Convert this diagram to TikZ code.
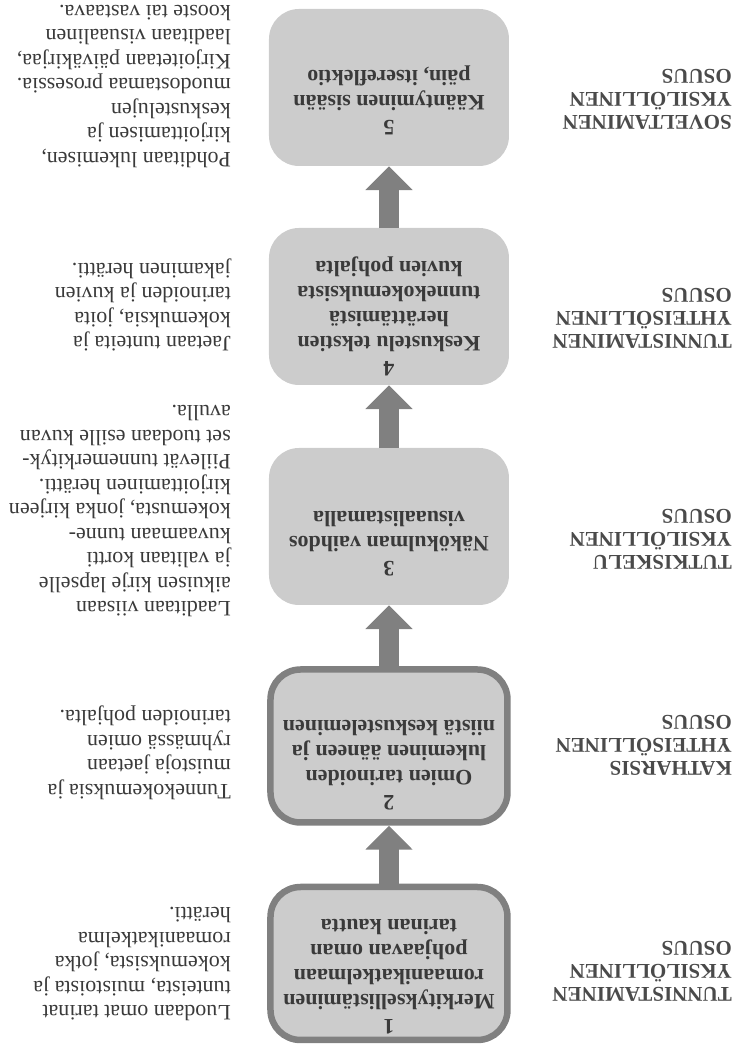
\documentclass[tikz,border=0pt]{standalone}
\usepackage{fontspec}
\setmainfont{Liberation Serif}
\newfontfamily\capsfont{Liberation Serif}
\usetikzlibrary{arrows.meta}

\definecolor{boxgray}{HTML}{CCCCCC}
\definecolor{arrowgray}{HTML}{808080}
\definecolor{textgray}{HTML}{3A3A3A}
\definecolor{labelgray}{HTML}{4A4A4A}

\tikzset{
  phase/.style={rectangle,rounded corners=30pt,fill=boxgray,minimum width=240pt,minimum height=157pt},
  phasebold/.style={phase,draw=arrowgray,line width=6.5pt,minimum width=237pt,minimum height=153pt},
  phasetext/.style={align=center,text=textgray,font=\bfseries\fontsize{22}{25}\selectfont},
  stagelabel/.style={anchor=west,align=left,inner sep=0pt,text=labelgray,font=\capsfont\bfseries\fontsize{21}{23}\selectfont},
  desc/.style={anchor=west,align=left,inner sep=0pt,text=textgray,font=\fontsize{22}{24.5}\selectfont},
  flow/.style={draw=arrowgray,line width=20pt,-{Triangle[width=46pt,length=24pt,color=arrowgray]}}
}

\begin{document}
\begin{tikzpicture}[x=1pt,y=-1pt,rotate=180,transform shape]
  \useasboundingbox (0,0) rectangle (736,1056);
  % phase boxes
  \node[phasebold](p1)at(347,92.5){};
  \node[phasebold](p2)at(347,310){};
  \node[phase](p3)at(347,529.5){};
  \node[phase](p4)at(347,749.5){};
  \node[phase](p5)at(347,968.5){};
  \node[phasetext](t1)at(347,79){1\\Merkityksellistäminen\\romaanikatkelmaan\\pohjaavan oman\\tarinan kautta};
  \node[phasetext](t2)at(347,291){2\\Omien tarinoiden\\lukeminen ääneen ja\\niistä keskusteleminen};
  \node[phasetext](t3)at(347,512){3\\Näkökulman vaihdos\\visuaalistamalla};
  \node[phasetext](t4)at(347,740){4\\Keskustelu tekstien\\herättämistä\\tunnekokemuksista\\kuvien pohjalta};
  \node[phasetext](t5)at(347,956){5\\Kääntyminen sisään\\päin, itsereflektio};
  % stage names
  \node[stagelabel](s1)at(4,85){TUNNISTAMINEN\\YKSILÖLLINEN\\OSUUS};
  \node[stagelabel](s2)at(4,311){KATHARSIS\\YHTEISÖLLINEN\\OSUUS};
  \node[stagelabel](s3)at(4,517){TUTKISKELU\\YKSILÖLLINEN\\OSUUS};
  \node[stagelabel](s4)at(4,738){TUNNISTAMINEN\\YHTEISÖLLINEN\\OSUUS};
  \node[stagelabel](s5)at(4,957){SOVELTAMINEN\\YKSILÖLLINEN\\OSUUS};
  % descriptions
  \node[desc](d1)at(505,92){Luodaan omat tarinat\\tunteista, muistoista ja\\kokemuksista, jotka\\romaanikatkelma\\herätti.};
  \node[desc](d2)at(505,303){Tunnekokemuksia ja\\muistoja jaetaan\\ryhmässä omien\\tarinoiden pohjalta.};
  \node[desc](d3)at(505,545){Laaditaan viisaan\\aikuisen kirje lapselle\\ja valitaan kortti\\kuvaamaan tunne-\\kokemusta, jonka kirjeen\\kirjoittaminen herätti.\\Piilevät tunnemerkityk-\\set tuodaan esille kuvan\\avulla.};
  \node[desc](d4)at(505,751){Jaetaan tunteita ja\\kokemuksia, joita\\tarinoiden ja kuvien\\jakaminen herätti.};
  \node[desc](d5)at(505,970){Pohditaan lukemisen,\\kirjoittamisen ja\\keskustelujen\\muodostamaa prosessia.\\Kirjoitetaan päiväkirjaa,\\laaditaan visuaalinen\\kooste tai vastaava.};
  % flow
  \draw[flow](p1)--(p2);
  \draw[flow](p2)--(p3);
  \draw[flow](p3)--(p4);
  \draw[flow](p4)--(p5);
\end{tikzpicture}
\end{document}
